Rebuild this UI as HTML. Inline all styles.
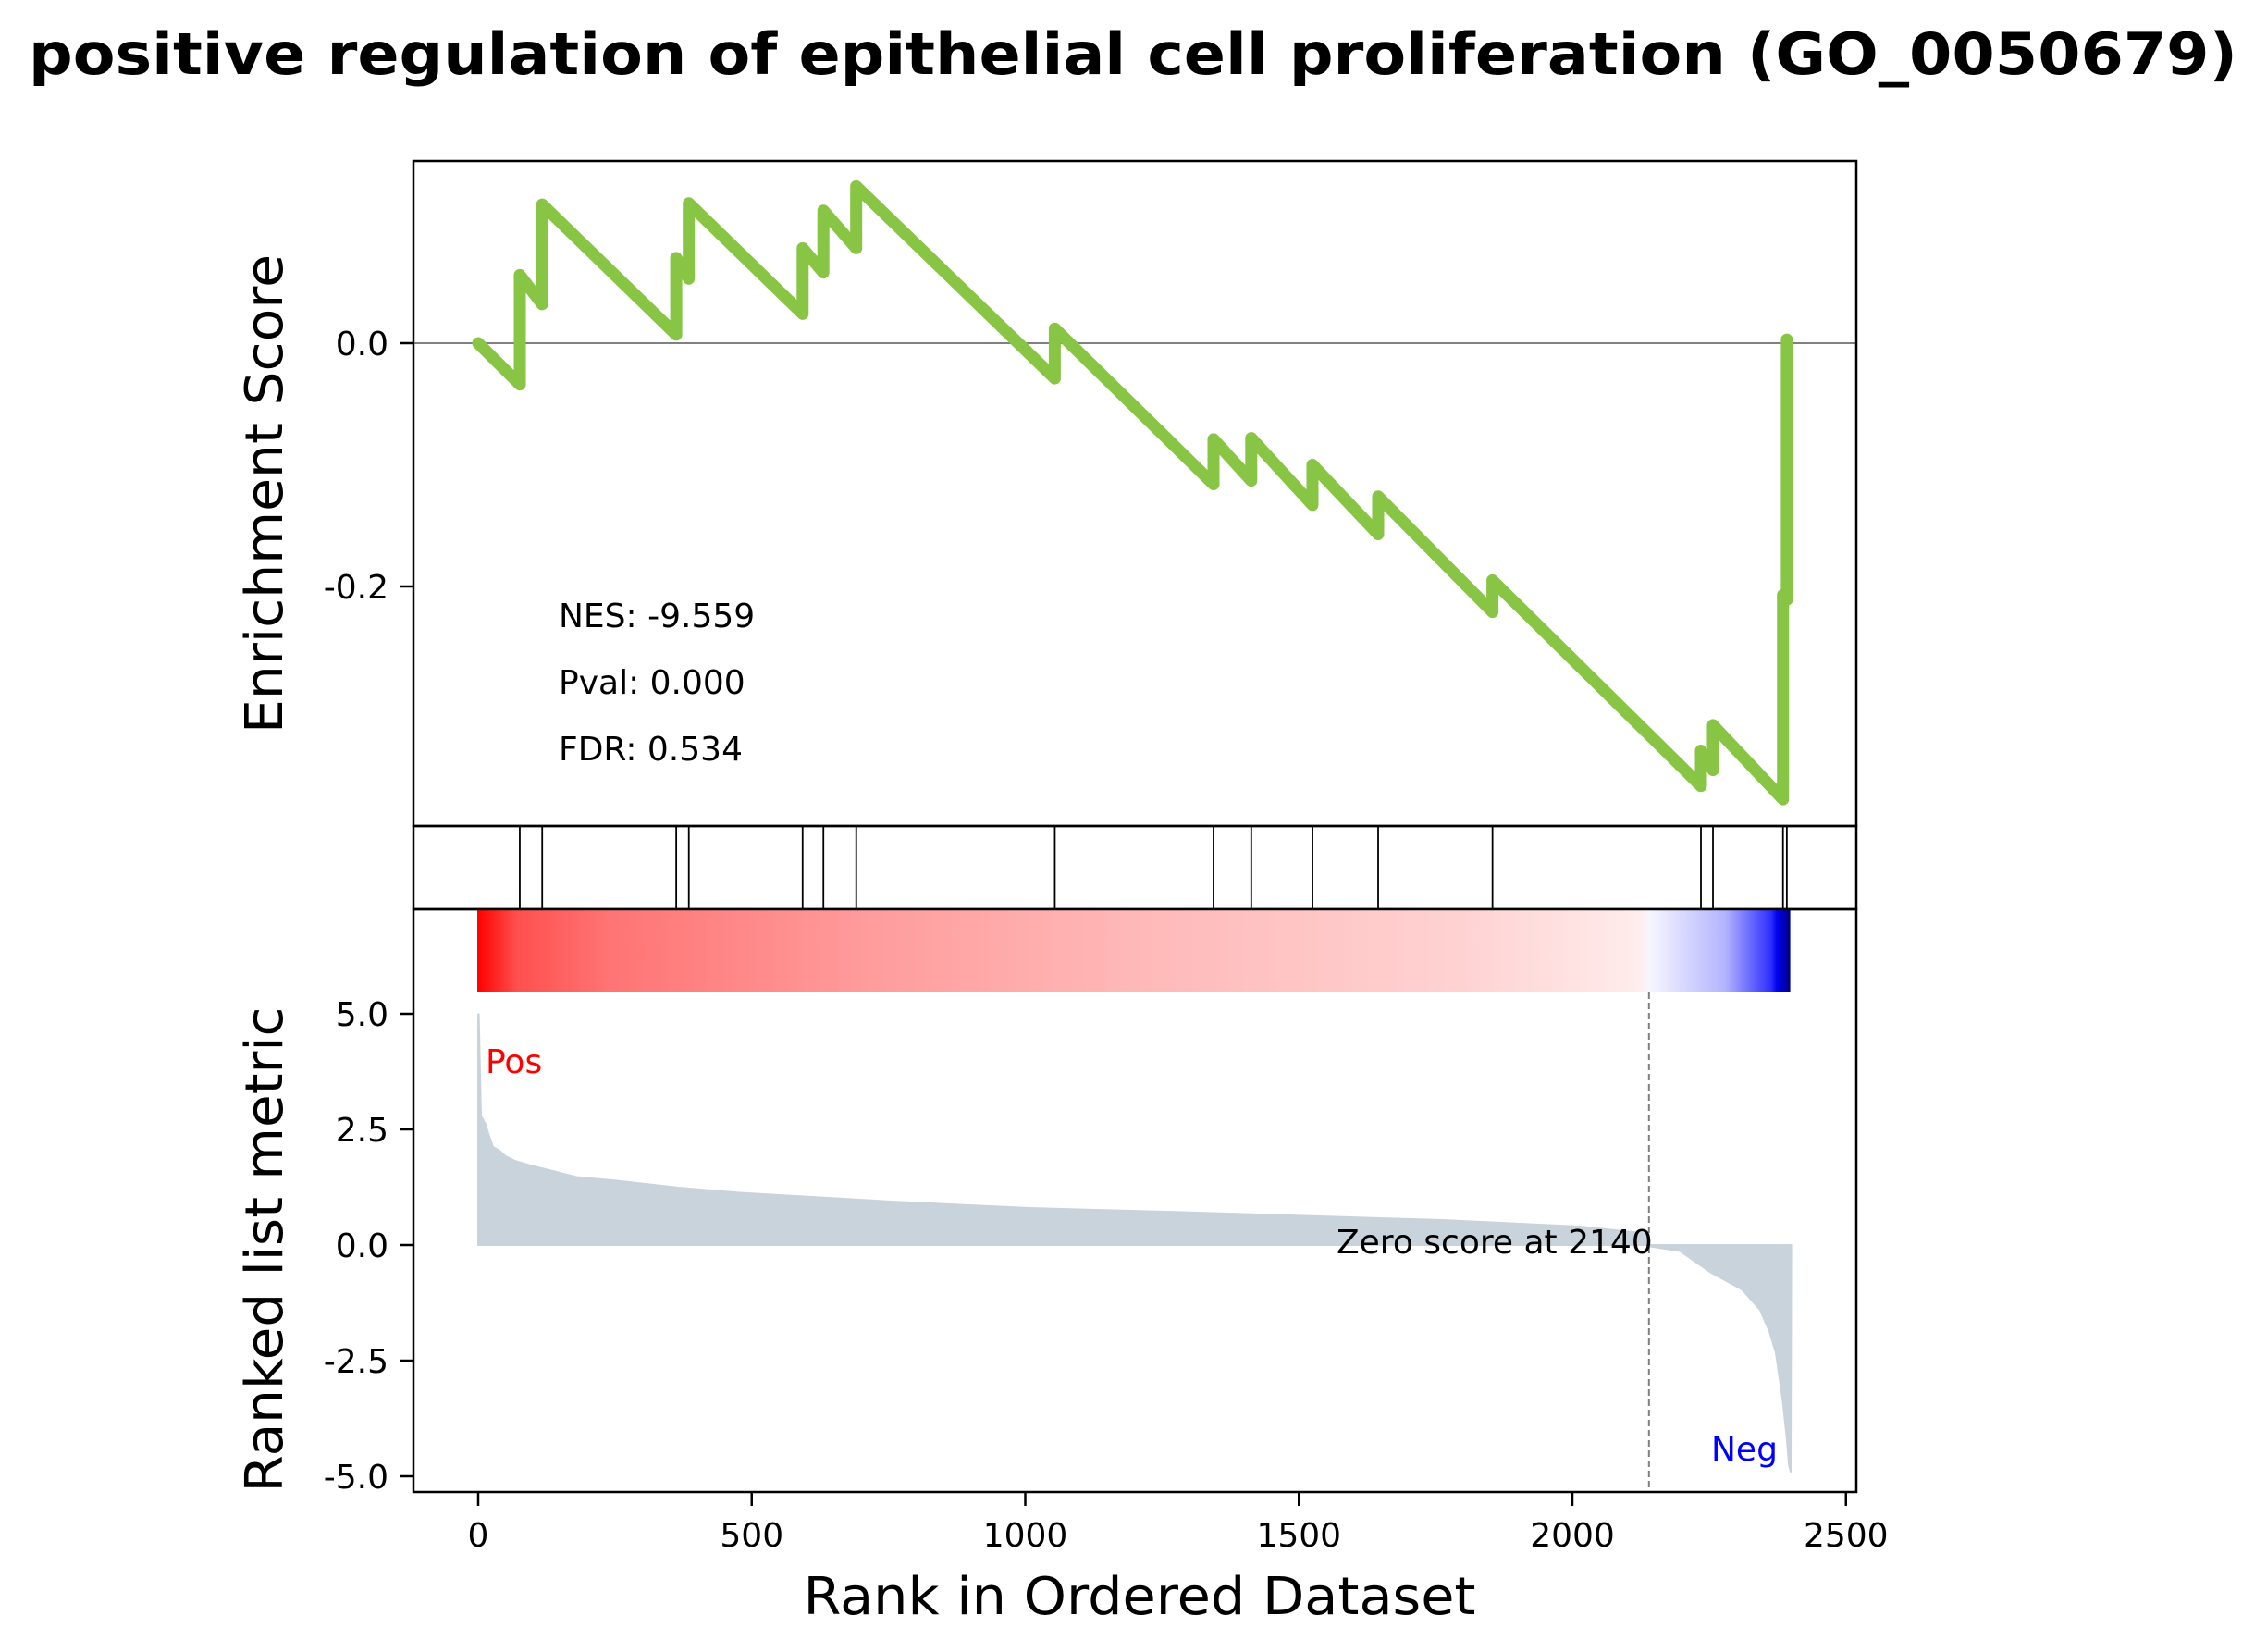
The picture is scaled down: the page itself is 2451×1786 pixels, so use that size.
<!DOCTYPE html>
<html><head><meta charset="utf-8">
<style>
html,body{margin:0;padding:0;background:#fff;}
svg{display:block;font-family:"DejaVu Sans","Liberation Sans",sans-serif;}
</style></head>
<body>
<svg id="chart" width="2451" height="1786" viewBox="0 0 2451 1786" xmlns="http://www.w3.org/2000/svg">
<defs>
<linearGradient id="cbar" x1="0" x2="1" y1="0" y2="0">
<stop offset="0" stop-color="#ff0000"/>
<stop offset="0.03" stop-color="#ff4f4f"/>
<stop offset="0.1" stop-color="#ff7474"/>
<stop offset="0.3" stop-color="#ff9c9c"/>
<stop offset="0.5" stop-color="#ffb8b8"/>
<stop offset="0.75" stop-color="#ffd2d2"/>
<stop offset="0.885" stop-color="#ffecec"/>
<stop offset="0.893" stop-color="#f6f6ff"/>
<stop offset="0.95" stop-color="#b4b4ff"/>
<stop offset="0.985" stop-color="#3030ff"/>
<stop offset="0.99" stop-color="#0000ee"/>
<stop offset="1" stop-color="#000080"/>
</linearGradient>
</defs>
<text x="1225" y="80" text-anchor="middle" font-size="62" font-weight="bold" textLength="2388" lengthAdjust="spacingAndGlyphs">positive regulation of epithelial cell proliferation (GO_0050679)</text>
<g id="plot"></g>
</svg>
<script>
const esRanks  = [0, 76, 76, 117, 117, 362, 362, 385, 385, 593, 593, 631, 631, 691, 691, 1054, 1054, 1344, 1344, 1413, 1413, 1525, 1525, 1645, 1645, 1854, 1854, 2235, 2235, 2257, 2257, 2385, 2385, 2392, 2392];
const esValues = [0, -0.034, 0.056, 0.032, 0.114, 0.007, 0.070, 0.053, 0.115, 0.024, 0.078, 0.058, 0.109, 0.078, 0.129, -0.029, 0.012, -0.116, -0.079, -0.113, -0.078, -0.133, -0.100, -0.157, -0.126, -0.221, -0.195, -0.364, -0.335, -0.351, -0.314, -0.375, -0.207, -0.211, 0.003];
const hitRanks = [76, 117, 362, 385, 593, 631, 691, 1054, 1344, 1413, 1525, 1645, 1854, 2235, 2257, 2385, 2392];
const metricRanks  = [0, 1, 5, 13, 19, 27, 39, 50, 67, 95, 140, 179, 253, 366, 478, 755, 1007, 1258, 1510, 1762, 2013, 2136, 2137, 2197, 2254, 2310, 2343, 2360, 2372, 2380, 2385, 2392, 2396, 2399];
const metricValues = [4.99, 4.99, 2.79, 2.62, 2.39, 2.12, 2.04, 1.92, 1.82, 1.72, 1.59, 1.47, 1.39, 1.24, 1.13, 0.94, 0.80, 0.72, 0.63, 0.54, 0.40, 0.25, -0.02, -0.13, -0.6, -0.96, -1.4, -1.86, -2.33, -3.0, -3.4, -4.2, -4.76, -4.9];
const xTicks = [0, 500, 1000, 1500, 2000, 2500];
const esTicks = [0.0, -0.2];
const esTickLabels = ["0.0", "-0.2"];
const metricTicks = [5, 2.5, 0, -2.5, -5];
const metricTickLabels = ["5.0", "2.5", "0.0", "-2.5", "-5.0"];
const zeroScoreRank = 2140;
const nRanks = 2400;

const NS = "http://www.w3.org/2000/svg";
const g = document.getElementById('plot');
const L = 447, R = 2007;
const x = r => 517 + r * 0.5915;
const yES = v => 371 - v * 1315;
const yM = v => 1346 - v * 50;
function el(tag, attrs, parent) {
  const e = document.createElementNS(NS, tag);
  for (const k in attrs) e.setAttribute(k, attrs[k]);
  (parent || g).appendChild(e);
  return e;
}
function txt(s, attrs) { const t = el('text', attrs); t.textContent = s; return t; }

// ES panel
let e = el('line', {x1: L, x2: R, y1: yES(0), y2: yES(0), stroke: '#808080', 'stroke-width': 2});


let pts = esRanks.map((r, i) => x(r).toFixed(1) + ',' + yES(esValues[i]).toFixed(1)).join(' ');
e = el('polyline', {points: pts, fill: 'none', stroke: '#88c544', 'stroke-width': 13, 'stroke-linejoin': 'round', 'stroke-linecap': 'round'});


esTicks.forEach((v, i) => {
  let t = el('line', {x1: 433, x2: L, y1: yES(v), y2: yES(v), stroke: '#000', 'stroke-width': 2.5});
  
  
  t = txt(esTickLabels[i], {x: 420, y: yES(v) + 13, 'text-anchor': 'end', 'font-size': 36});
  
  
});
[["NES: -9.559", 678], ["Pval: 0.000", 750], ["FDR: 0.534", 822]].forEach(([s, yy]) => {
  const t = txt(s, {x: 604, y: yy, 'font-size': 36});
  
  
});
e = el('rect', {x: L, y: 174, width: R - L, height: 719, fill: 'none', stroke: '#000', 'stroke-width': 2.5});


e = txt('Enrichment Score', {x: 0, y: 0, transform: 'translate(305,534) rotate(-90)', 'text-anchor': 'middle', 'font-size': 56, textLength: 518, lengthAdjust: 'spacingAndGlyphs'});



// hits panel
hitRanks.forEach(r => {
  const h = el('line', {x1: x(r), x2: x(r), y1: 893, y2: 983, stroke: '#000', 'stroke-width': 1.8});
  
  
});
e = el('rect', {x: L, y: 893, width: R - L, height: 90, fill: 'none', stroke: '#000', 'stroke-width': 2.5});



// ranked metric panel
e = el('rect', {x: x(0) - 1, y: 983, width: x(nRanks) - x(0), height: 90, fill: 'url(#cbar)'});


let mp = 'M' + x(0) + ',' + yM(0) + ' ' + metricRanks.map((r, i) => 'L' + x(r).toFixed(1) + ',' + yM(metricValues[i]).toFixed(1)).join(' ') + ' L' + x(nRanks) + ',' + yM(0) + ' Z';
e = el('path', {d: mp, fill: '#c9d3db', stroke: '#c9d3db', 'stroke-width': 2, 'stroke-linejoin': 'round'});


e = el('line', {x1: x(zeroScoreRank), x2: x(zeroScoreRank), y1: 1073, y2: 1613, stroke: '#808080', 'stroke-width': 2, 'stroke-dasharray': '7,4'});


e = txt('Zero score at 2140', {x: 1445, y: 1355, 'font-size': 36});


e = txt('Pos', {x: 525, y: 1160, 'font-size': 36, fill: '#ff0000'});


e = txt('Neg', {x: 1850, y: 1579, 'font-size': 36, fill: '#0000ff'});


metricTicks.forEach((v, i) => {
  let t = el('line', {x1: 433, x2: L, y1: yM(v), y2: yM(v), stroke: '#000', 'stroke-width': 2.5});
  
  
  t = txt(metricTickLabels[i], {x: 420, y: yM(v) + 13, 'text-anchor': 'end', 'font-size': 36});
  
  
});
xTicks.forEach(v => {
  let t = el('line', {x1: x(v), x2: x(v), y1: 1613, y2: 1628, stroke: '#000', 'stroke-width': 2.5});
  
  
  t = txt(String(v), {x: x(v), y: 1672, 'text-anchor': 'middle', 'font-size': 36});
  
  
});
e = el('rect', {x: L, y: 983, width: R - L, height: 630, fill: 'none', stroke: '#000', 'stroke-width': 2.5});


e = txt('Ranked list metric', {x: 0, y: 0, transform: 'translate(305,1351) rotate(-90)', 'text-anchor': 'middle', 'font-size': 56, textLength: 525, lengthAdjust: 'spacingAndGlyphs'});


e = txt('Rank in Ordered Dataset', {x: 1232, y: 1745, 'text-anchor': 'middle', 'font-size': 56, textLength: 727, lengthAdjust: 'spacingAndGlyphs'});


</script>
</body></html>
